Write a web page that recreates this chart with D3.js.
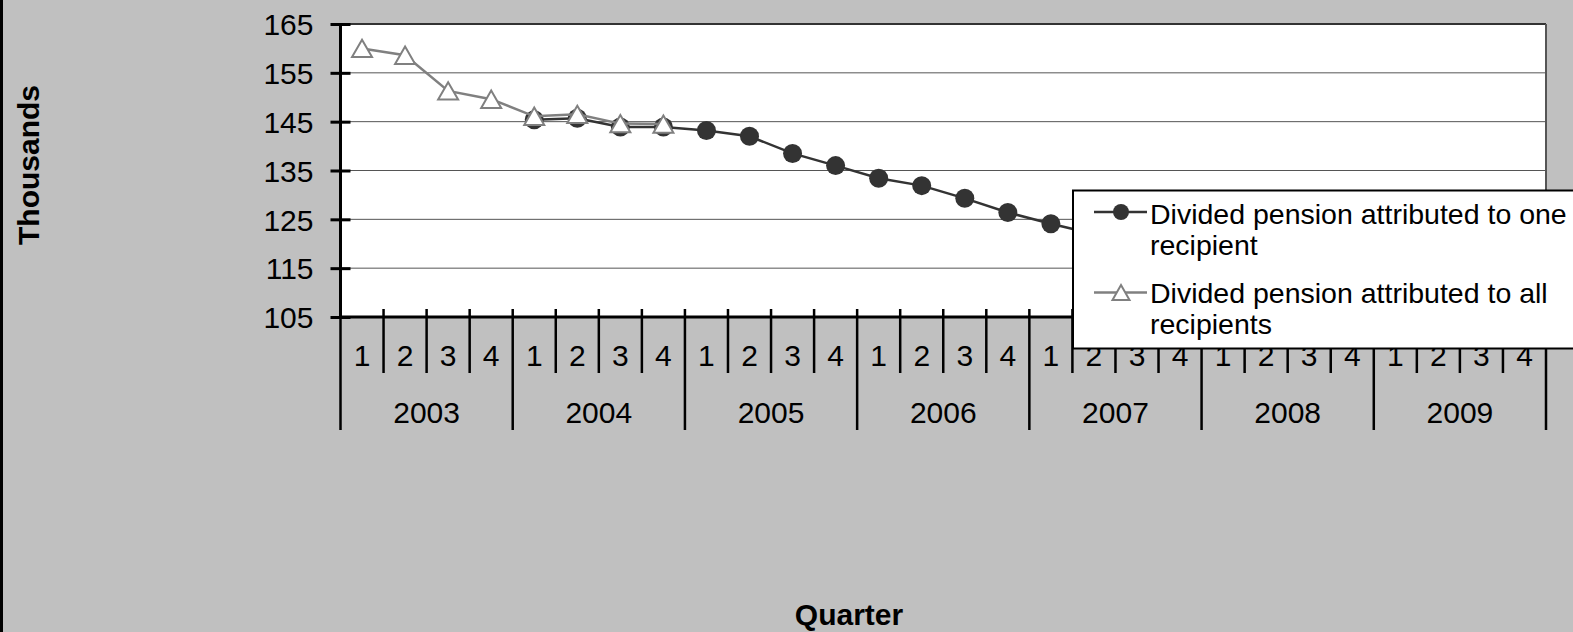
<!DOCTYPE html>
<html>
<head>
<meta charset="utf-8">
<script src="https://cdn.jsdelivr.net/npm/d3@7"></script>
<style>
  html, body { margin: 0; padding: 0; background: #c0c0c0; }
  svg { display: block; }
  text { font-family: "Liberation Sans", Arial, sans-serif; fill: #000; }
</style>
</head>
<body>
<svg id="chart" width="1573" height="632"></svg>
<script>
// Quarterly counts of divided pensions (thousands)
const years = ["2003", "2004", "2005", "2006", "2007", "2008", "2009"];
const quarters = ["1", "2", "3", "4"];
const yTicks = [105, 115, 125, 135, 145, 155, 165];

// Series: divided pension attributed to one recipient, from 2004 Q1
const oneStart = "2004-1";
const oneRecipient = [145.4, 145.7, 143.9, 143.9, 143.2, 142.0, 138.5, 136.0,
                      133.4, 131.9, 129.3, 126.4, 124.1, 122.0];
// Series: divided pension attributed to all recipients, from 2003 Q1
const allStart = "2003-1";
const allRecipients = [160.0, 158.6, 151.3, 149.6, 146.1, 146.5, 144.6, 144.5];

const seriesNames = ["Divided pension attributed to one", "recipient",
                     "Divided pension attributed to all", "recipients"];

const keys = [];
years.forEach(y => quarters.forEach(q => keys.push(y + "-" + q)));

const svg = d3.select("#chart");
const plot = { left: 340.5, right: 1546, top: 24, bottom: 317 };

const x = d3.scaleBand().domain(keys).range([plot.left, plot.right]).padding(0);
const bw = x.bandwidth();
const cx = k => x(k) + bw / 2;
const y = d3.scaleLinear().domain([105, 165]).range([plot.bottom, plot.top]);

const labelSize = "30px";

// outer frame edge
svg.append("line").attr("x1", 1.5).attr("x2", 1.5).attr("y1", 0).attr("y2", 632)
  .attr("stroke", "#000").attr("stroke-width", 3);

// plot background
svg.append("rect")
  .attr("x", plot.left).attr("y", plot.top)
  .attr("width", plot.right - plot.left).attr("height", plot.bottom - plot.top)
  .attr("fill", "#fff");

// horizontal gridlines
svg.append("g").selectAll("line").data(yTicks.filter(v => v > 105)).join("line")
  .attr("x1", plot.left).attr("x2", plot.right)
  .attr("y1", d => y(d)).attr("y2", d => y(d))
  .attr("stroke", d => d === 165 ? "#333" : "#555")
  .attr("stroke-width", d => d === 165 ? 2 : 1);

// right frame of plot
svg.append("line").attr("x1", plot.right).attr("x2", plot.right)
  .attr("y1", plot.top).attr("y2", plot.bottom)
  .attr("stroke", "#555").attr("stroke-width", 2);

// y axis
const yAxis = d3.axisLeft(y).tickValues(yTicks).tickSize(0).tickPadding(0)
  .tickFormat(d3.format("d"));
const gy = svg.append("g").attr("transform", `translate(${plot.left},0)`).call(yAxis);
gy.select(".domain").remove();
gy.selectAll("text").attr("x", -27).attr("dy", "0.36em")
  .style("font-size", labelSize).style("font-family", "Liberation Sans, Arial, sans-serif");
gy.selectAll(".tick").append("line")
  .attr("x1", -10).attr("x2", 10).attr("stroke", "#000").attr("stroke-width", 3);

// x axis: quarter separators and labels
const gx = svg.append("g");
const bounds = keys.map(k => x(k)).concat([plot.right]);
gx.selectAll("line.q").data(bounds).join("line").attr("class", "q")
  .attr("x1", d => d).attr("x2", d => d)
  .attr("y1", plot.bottom - 8)
  .attr("y2", (d, i) => (i % 4 === 0) ? 430 : 373)
  .attr("stroke", "#000").attr("stroke-width", 2.5);
gx.selectAll("text.q").data(keys).join("text").attr("class", "q")
  .attr("x", d => cx(d)).attr("y", 355.5).attr("dy", "0.36em")
  .attr("text-anchor", "middle").style("font-size", labelSize)
  .text(d => d.split("-")[1]);
gx.selectAll("text.yr").data(years).join("text").attr("class", "yr")
  .attr("x", d => (x(d + "-1") + x(d + "-4") + bw) / 2).attr("y", 412).attr("dy", "0.36em")
  .attr("text-anchor", "middle").style("font-size", labelSize)
  .text(d => d);

// axis lines
svg.append("line").attr("x1", plot.left).attr("x2", plot.left)
  .attr("y1", plot.top - 1).attr("y2", plot.bottom + 1.5)
  .attr("stroke", "#000").attr("stroke-width", 3);
svg.append("line").attr("x1", plot.left - 1.5).attr("x2", plot.right)
  .attr("y1", plot.bottom).attr("y2", plot.bottom)
  .attr("stroke", "#000").attr("stroke-width", 3);

// series data
const oneIdx = keys.indexOf(oneStart);
const oneData = oneRecipient.map((v, i) => ({ k: keys[oneIdx + i], v }));
const allIdx = keys.indexOf(allStart);
const allData = allRecipients.map((v, i) => ({ k: keys[allIdx + i], v }));

const line = d3.line().x(d => cx(d.k)).y(d => y(d.v));

const dark = "#333333", grey = "#808080";
const tri = (s) => `M0,${-s * 0.87}L${s},${s * 0.87}L${-s},${s * 0.87}Z`;

// one recipient: dark line with filled circles
svg.append("path").datum(oneData).attr("d", line)
  .attr("fill", "none").attr("stroke", dark).attr("stroke-width", 2.5);
svg.append("g").selectAll("circle").data(oneData).join("circle")
  .attr("cx", d => cx(d.k)).attr("cy", d => y(d.v)).attr("r", 9.5)
  .attr("fill", dark);

// all recipients: grey line with open triangles
svg.append("path").datum(allData).attr("d", line)
  .attr("fill", "none").attr("stroke", grey).attr("stroke-width", 2.5);
svg.append("g").selectAll("path").data(allData).join("path")
  .attr("transform", d => `translate(${cx(d.k)},${y(d.v)})`)
  .attr("d", tri(10))
  .attr("fill", "#fff").attr("stroke", grey).attr("stroke-width", 2);

// axis titles
svg.append("text").attr("transform", "translate(39,165) rotate(-90)")
  .attr("text-anchor", "middle").style("font-size", "30px").style("font-weight", "bold")
  .text("Thousands");
svg.append("text").attr("x", 849).attr("y", 625)
  .attr("text-anchor", "middle").style("font-size", "30px").style("font-weight", "bold")
  .text("Quarter");

// legend
const lg = svg.append("g");
lg.append("rect").attr("x", 1073).attr("y", 190.5).attr("width", 520).attr("height", 158)
  .attr("fill", "#fff").attr("stroke", "#000").attr("stroke-width", 2);
const legendRows = [
  { color: dark, kind: "circle", cy: 212, lines: [seriesNames[0], seriesNames[1]], base: 224 },
  { color: grey, kind: "tri", cy: 292.5, lines: [seriesNames[2], seriesNames[3]], base: 303 }
];
legendRows.forEach(r => {
  lg.append("line").attr("x1", 1094).attr("x2", 1147).attr("y1", r.cy).attr("y2", r.cy)
    .attr("stroke", r.color).attr("stroke-width", 2.5);
  if (r.kind === "circle") {
    lg.append("circle").attr("cx", 1121).attr("cy", r.cy).attr("r", 8).attr("fill", r.color);
  } else {
    lg.append("path").attr("transform", `translate(1121,${r.cy})`).attr("d", tri(8.5))
      .attr("fill", "#fff").attr("stroke", r.color).attr("stroke-width", 2);
  }
  r.lines.forEach((t, i) => {
    lg.append("text").attr("x", 1150).attr("y", r.base + i * 31)
      .style("font-size", "28.5px").text(t);
  });
});
</script>
</body>
</html>
